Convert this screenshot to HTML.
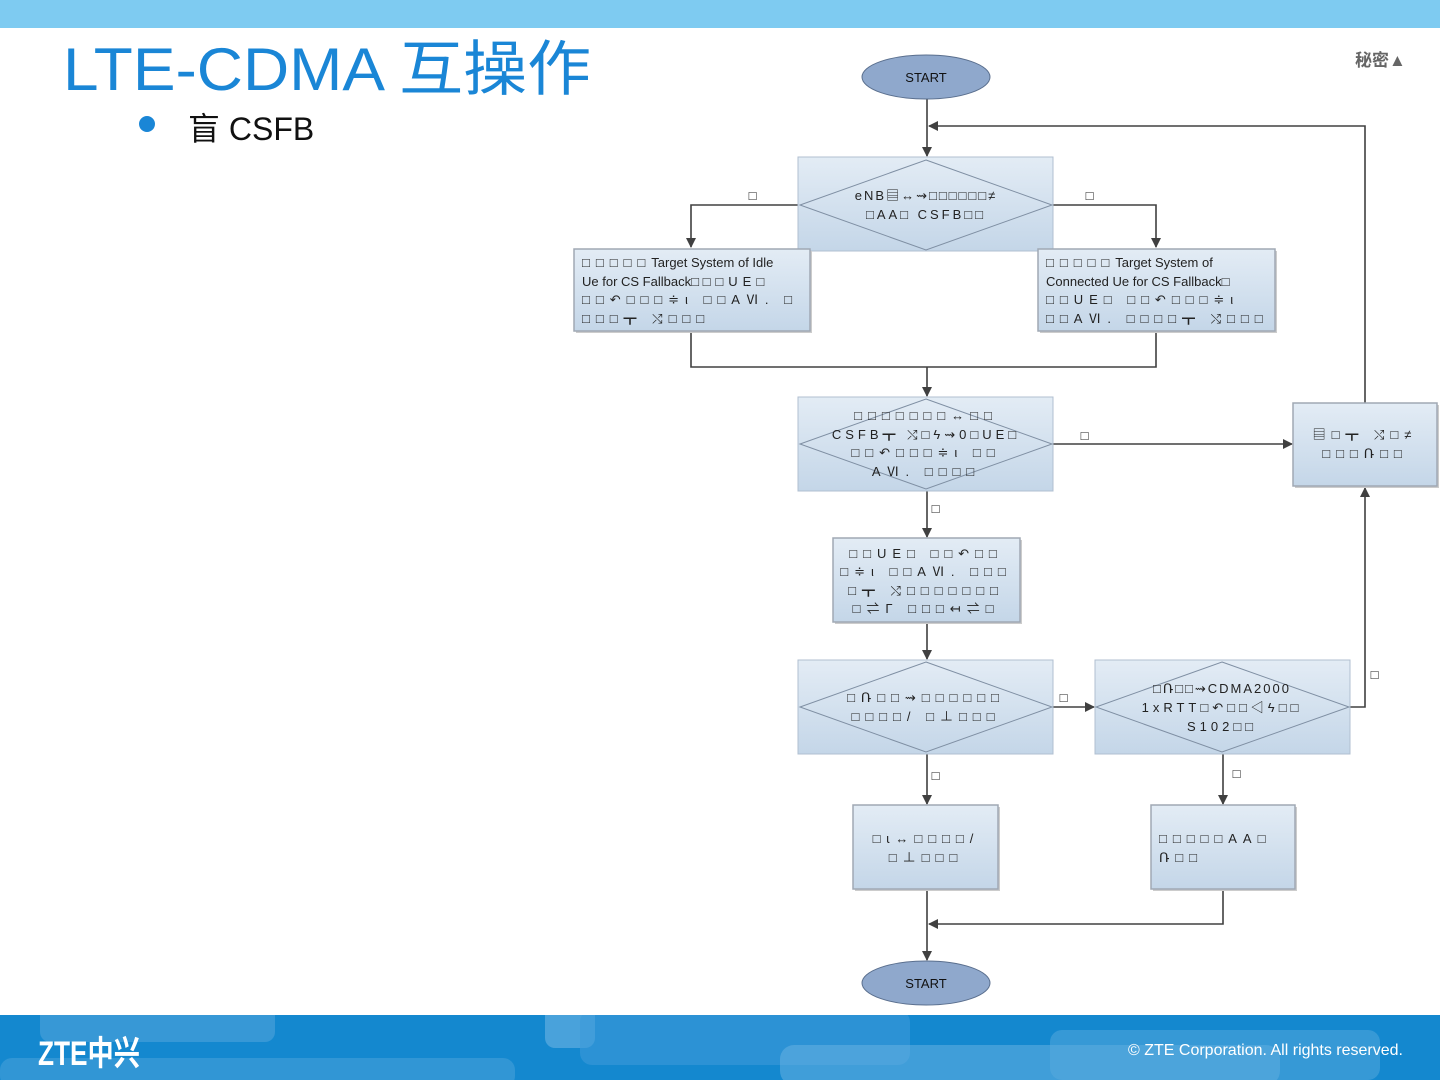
<!DOCTYPE html>
<html><head><meta charset="utf-8"><style>
html,body{margin:0;padding:0;width:1440px;height:1080px;overflow:hidden;background:#fff;font-family:"Liberation Sans","Noto Sans CJK SC",sans-serif}
</style></head><body>
<svg width="1440" height="1080" xmlns="http://www.w3.org/2000/svg" style="position:absolute;left:0;top:0">
<defs>
<linearGradient id="g" x1="0" y1="0" x2="0" y2="1"><stop offset="0" stop-color="#e3ecf5"/><stop offset="1" stop-color="#c4d6e8"/></linearGradient>
<marker id="a" markerWidth="10" markerHeight="10" refX="9" refY="5" orient="auto" markerUnits="userSpaceOnUse"><path d="M0,0 L10,5 L0,10 z" fill="#404040"/></marker>
<clipPath id="fc"><rect x="0" y="1015" width="1440" height="65"/></clipPath>
</defs>
<rect x="0" y="0" width="1440" height="28" fill="#7ecbf1"/>
<text x="63" y="90" font-size="60" fill="#1a86d6" textLength="528" lengthAdjust="spacingAndGlyphs">LTE-CDMA 互操作</text>
<circle cx="147" cy="124" r="8" fill="#1a86d6"/>
<text x="188" y="140" font-size="32" fill="#111">盲 CSFB</text>
<text x="1355" y="66" font-size="17" fill="#666" font-weight="bold">秘密▲</text>

<!-- footer -->
<rect x="0" y="1015" width="1440" height="65" fill="#1488cf"/>
<g clip-path="url(#fc)">
<rect x="40" y="1000" width="235" height="42" rx="10" fill="#4ea3db" opacity="0.6"/>
<rect x="0" y="1058" width="515" height="30" rx="12" fill="#4ea3db" opacity="0.5"/>
<rect x="545" y="1000" width="50" height="48" rx="10" fill="#6cb4e3" opacity="0.6"/>
<rect x="580" y="1010" width="330" height="55" rx="12" fill="#3c99d8" opacity="0.6"/>
<rect x="780" y="1045" width="500" height="40" rx="14" fill="#6cb4e3" opacity="0.5"/>
<rect x="1050" y="1030" width="330" height="50" rx="12" fill="#58a9de" opacity="0.5"/>
</g>
<text x="38" y="1065" font-size="34" font-weight="bold" fill="#fff" textLength="102" lengthAdjust="spacingAndGlyphs">ZTE中兴</text>
<text x="1128" y="1055" font-size="16" fill="#fff">© ZTE Corporation. All rights reserved.</text>

<g stroke="#404040" stroke-width="1.6" fill="none">
<line x1="927" y1="99" x2="927" y2="156" marker-end="url(#a)"/>
<polyline points="1365,403 1365,126 929,126" marker-end="url(#a)"/>
<polyline points="798,205 691,205 691,247" marker-end="url(#a)"/>
<polyline points="1053,205 1156,205 1156,247" marker-end="url(#a)"/>
<polyline points="691,331 691,367 1156,367 1156,331"/>
<line x1="927" y1="367" x2="927" y2="396" marker-end="url(#a)"/>
<line x1="1053" y1="444" x2="1292" y2="444" marker-end="url(#a)"/>
<line x1="927" y1="491" x2="927" y2="537" marker-end="url(#a)"/>
<line x1="927" y1="622" x2="927" y2="659" marker-end="url(#a)"/>
<line x1="1053" y1="707" x2="1094" y2="707" marker-end="url(#a)"/>
<polyline points="1350,707 1365,707 1365,488" marker-end="url(#a)"/>
<line x1="927" y1="754" x2="927" y2="804" marker-end="url(#a)"/>
<line x1="1223" y1="754" x2="1223" y2="804" marker-end="url(#a)"/>
<polyline points="1223,889 1223,924 929,924" marker-end="url(#a)"/>
<line x1="927" y1="889" x2="927" y2="960" marker-end="url(#a)"/>
</g>

<g stroke="#5a6f8e" stroke-width="1">
<ellipse cx="926" cy="77" rx="64" ry="22" fill="#8fa8cc"/>
<ellipse cx="926" cy="983" rx="64" ry="22" fill="#8fa8cc"/>
</g>
<text x="926" y="82" font-size="13" text-anchor="middle" fill="#111">START</text>
<text x="926" y="988" font-size="13" text-anchor="middle" fill="#111">START</text>

<g fill="url(#g)" stroke="#b0bfd0" stroke-width="1">
<rect x="798" y="157" width="255" height="94"/>
<rect x="798" y="397" width="255" height="94"/>
<rect x="798" y="660" width="255" height="94"/>
<rect x="1095" y="660" width="255" height="94"/>
</g>
<g fill="url(#g)" stroke="#a0a8b4" stroke-width="1.5">
<rect x="576" y="251" width="236" height="82" fill="#ccc" stroke="none"/>
<rect x="574" y="249" width="236" height="82"/>
<rect x="1040" y="251" width="237" height="82" fill="#ccc" stroke="none"/>
<rect x="1038" y="249" width="237" height="82"/>
<rect x="1295" y="405" width="144" height="83" fill="#ccc" stroke="none"/>
<rect x="1293" y="403" width="144" height="83"/>
<rect x="835" y="540" width="187" height="84" fill="#ccc" stroke="none"/>
<rect x="833" y="538" width="187" height="84"/>
<rect x="855" y="807" width="145" height="84" fill="#ccc" stroke="none"/>
<rect x="853" y="805" width="145" height="84"/>
<rect x="1153" y="807" width="144" height="84" fill="#ccc" stroke="none"/>
<rect x="1151" y="805" width="144" height="84"/>
</g>
<g fill="none" stroke="#7f8fa3" stroke-width="1">
<polygon points="926,160 1052,205 926,250 800,205"/>
<polygon points="926,399 1052,444 926,489 800,444"/>
<polygon points="926,662 1052,707 926,752 800,707"/>
<polygon points="1222,662 1349,707 1222,752 1096,707"/>
</g>

<g font-size="13" fill="#222" letter-spacing="3">
<text x="754" y="200" text-anchor="middle">□</text>
<text x="1091" y="200" text-anchor="middle">□</text>
<text x="1086" y="440" text-anchor="middle">□</text>
<text x="937" y="513" text-anchor="middle">□</text>
<text x="1065" y="702" text-anchor="middle">□</text>
<text x="1376" y="679" text-anchor="middle">□</text>
<text x="937" y="780" text-anchor="middle">□</text>
<text x="1238" y="778" text-anchor="middle">□</text>

<text x="926" y="200" text-anchor="middle" letter-spacing="2">eNB▤↔⇝□□□□□□≠</text>
<text x="926" y="219" text-anchor="middle">□AA□ CSFB□□</text>

<text x="582" y="267" letter-spacing="0"><tspan letter-spacing="6">□□□□□</tspan>Target System of Idle</text>
<text x="582" y="286" letter-spacing="0">Ue for CS Fallback□ <tspan letter-spacing="5">□□UE□</tspan></text>
<text x="582" y="304" letter-spacing="6">□□↶□□□≑ι □□AⅥ. □</text>
<text x="582" y="323" letter-spacing="6">□□□┳ ⤭□□□</text>

<text x="1046" y="267" letter-spacing="0"><tspan letter-spacing="6">□□□□□</tspan>Target System of</text>
<text x="1046" y="286" letter-spacing="0">Connected Ue for CS Fallback□</text>
<text x="1046" y="304" letter-spacing="6">□□UE□  □□↶□□□≑ι</text>
<text x="1046" y="323" letter-spacing="6">□□AⅥ. □□□□┳ ⤭□□□</text>

<text x="926" y="420" text-anchor="middle" letter-spacing="6">□□□□□□□↔□□</text>
<text x="926" y="439" text-anchor="middle" letter-spacing="4">CSFB┳ ⤭□ϟ⇝0□UE□</text>
<text x="926" y="457" text-anchor="middle" letter-spacing="6">□□↶□□□≑ι □□</text>
<text x="926" y="476" text-anchor="middle" letter-spacing="6">AⅥ. □□□□</text>

<text x="1365" y="439" text-anchor="middle" letter-spacing="6">▤□┳ ⤭□≠</text>
<text x="1365" y="458" text-anchor="middle" letter-spacing="6">□□□Ռ□□</text>

<text x="926" y="558" text-anchor="middle" letter-spacing="6">□□UE□  □□↶□□</text>
<text x="926" y="576" text-anchor="middle" letter-spacing="6">□≑ι □□AⅥ. □□□</text>
<text x="926" y="595" text-anchor="middle" letter-spacing="6">□┳ ⤭□□□□□□□</text>
<text x="926" y="613" text-anchor="middle" letter-spacing="6">□⇌Γ □□□↤⇌□</text>

<text x="926" y="702" text-anchor="middle" letter-spacing="6">□Ռ□□⇝□□□□□□</text>
<text x="926" y="721" text-anchor="middle" letter-spacing="6">□□□□/ □⊥□□□</text>

<text x="1222" y="693" text-anchor="middle" letter-spacing="2">□Ռ□□⇝CDMA2000</text>
<text x="1222" y="712" text-anchor="middle" letter-spacing="4">1xRTT□↶□□◁ϟ□□</text>
<text x="1222" y="731" text-anchor="middle" letter-spacing="4">S102□□</text>

<text x="926" y="843" text-anchor="middle" letter-spacing="6">□ɩ↔□□□□/</text>
<text x="926" y="862" text-anchor="middle" letter-spacing="6">□⊥□□□</text>

<text x="1159" y="843" letter-spacing="6">□□□□□AA□</text>
<text x="1159" y="862" letter-spacing="6">Ռ□□</text>
</g>
</svg>
</body></html>
